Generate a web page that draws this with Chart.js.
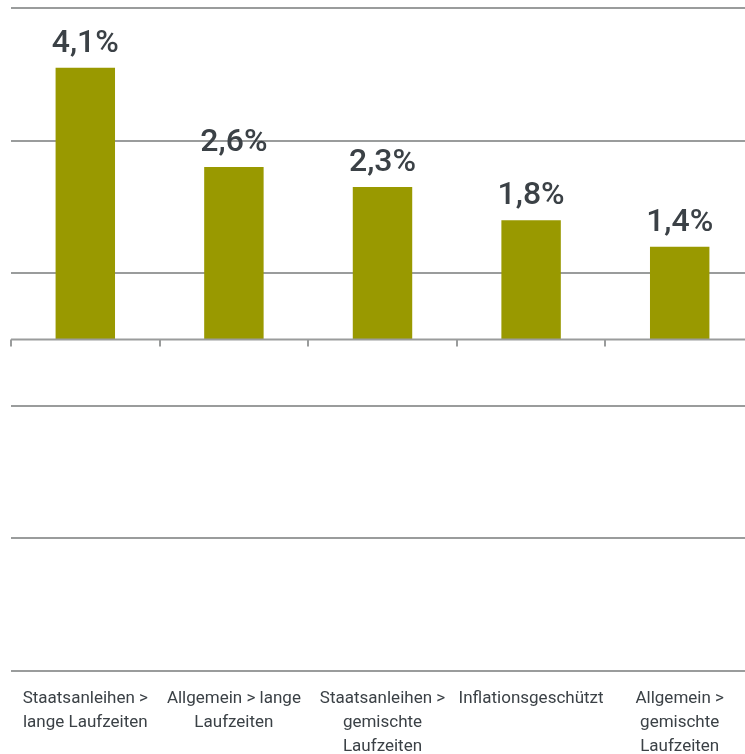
<!DOCTYPE html>
<html>
<head>
<meta charset="utf-8">
<script src="https://cdn.jsdelivr.net/npm/chart.js@4.4.0/dist/chart.umd.min.js"></script>
<style>
  html, body { margin: 0; padding: 0; background: #fff; overflow: hidden; }
  #wrap { width: 745px; height: 754px; overflow: hidden; }
</style>
</head>
<body>
<div id="wrap"><canvas id="chart" width="755" height="754"></canvas></div>
<script>
const categories = [
  ['Staatsanleihen >', 'lange Laufzeiten'],
  ['Allgemein > lange', 'Laufzeiten'],
  ['Staatsanleihen >', 'gemischte', 'Laufzeiten'],
  ['Inflationsgeschützt'],
  ['Allgemein >', 'gemischte', 'Laufzeiten']
];
const values = [4.1, 2.6, 2.3, 1.8, 1.4];
const yMin = -5, yMax = 5, yStep = 2;

const gridColor = '#9a9c9c';
const textColor = '#3b4146';

// zero line with category tick marks
const zeroLine = {
    id: 'zeroLine',
    afterDatasetsDraw(chart) {
        const ctx = chart.ctx, x = chart.scales.x, y = chart.scales.y;
        const y0 = y.getPixelForValue(0);
        const n = categories.length;
        const w = (x.right - x.left) / n;
        ctx.save();
        ctx.strokeStyle = gridColor;
        ctx.lineWidth = 2;
        ctx.beginPath();
        ctx.moveTo(x.left, y0);
        ctx.lineTo(x.right, y0);
        for (let i = 0; i <= n; i++) {
            const px = Math.round(x.left + i * w);
            ctx.moveTo(px, y0);
            ctx.lineTo(px, y0 + 7);
        }
        ctx.stroke();
        ctx.restore();
    }
};

// value labels above bars
const valueLabels = {
    id: 'valueLabels',
    afterDatasetsDraw(chart) {
        const ctx = chart.ctx;
        const meta = chart.getDatasetMeta(0);
        ctx.save();
        ctx.fillStyle = textColor;
        ctx.font = '500 32px Roboto';
        ctx.textAlign = 'center';
        ctx.textBaseline = 'alphabetic';
        meta.data.forEach((bar, i) => {
            ctx.fillText(values[i].toFixed(1).replace('.', ',') + '%', bar.x, bar.y - 16);
        });
        ctx.restore();
    }
};

new Chart(document.getElementById('chart').getContext('2d'), {
    type: 'bar',
    data: {
        labels: categories,
        datasets: [{
            data: values,
            backgroundColor: '#999900',
            borderWidth: 0,
            categoryPercentage: 1,
            barPercentage: 0.4
        }]
    },
    options: {
        responsive: false,
        animation: false,
        layout: { padding: { top: 8, left: 11, right: 1, bottom: 0 } },
        plugins: { legend: { display: false }, tooltip: { enabled: false } },
        scales: {
            x: {
                grid: { display: false },
                border: { display: false },
                ticks: {
                    color: textColor,
                    font: { family: 'Roboto', size: 17, lineHeight: 1.41 },
                    padding: 8,
                    maxRotation: 0,
                    autoSkip: false
                },
                afterFit: s => { s.height = 83; }
            },
            y: {
                min: yMin,
                max: yMax,
                ticks: { display: false, stepSize: yStep },
                border: { display: false },
                grid: { color: gridColor, lineWidth: 2, drawTicks: false }
            }
        }
    },
    plugins: [zeroLine, valueLabels]
});
</script>
</body>
</html>
